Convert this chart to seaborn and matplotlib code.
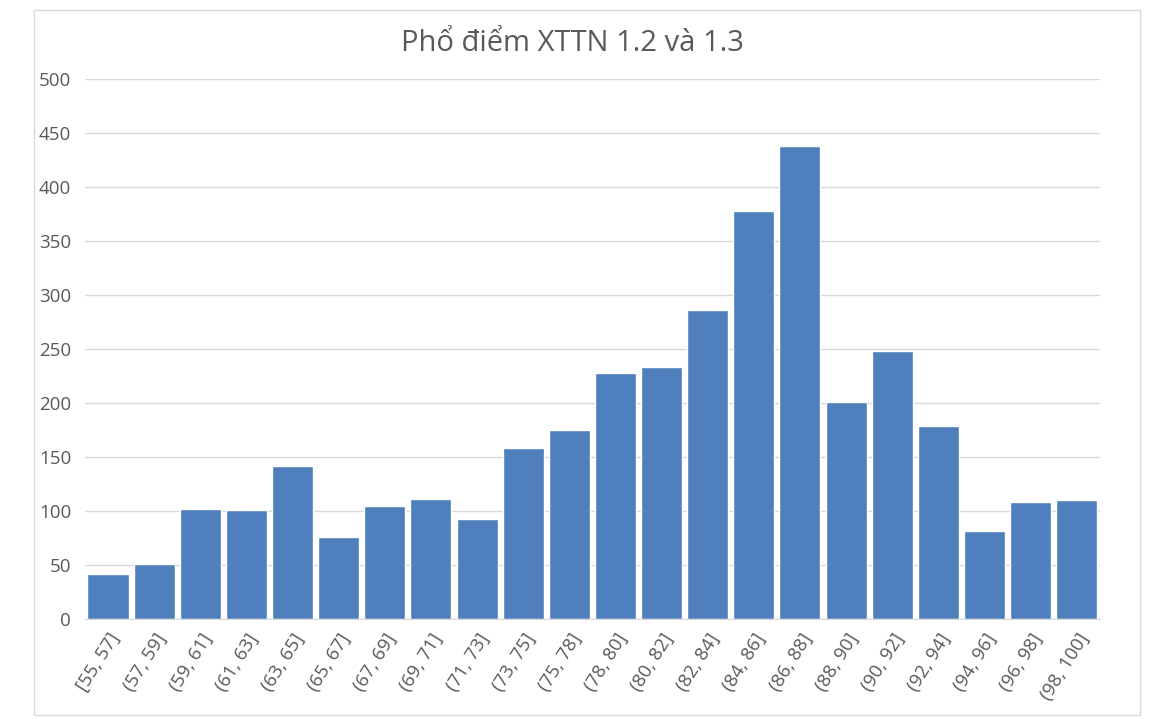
import matplotlib
matplotlib.use("Agg")
import matplotlib.pyplot as plt
import seaborn as sns
import pandas as pd
from matplotlib.patches import Rectangle

# score bins and counts
bins = ["[55, 57]", "(57, 59]", "(59, 61]", "(61, 63]", "(63, 65]", "(65, 67]",
        "(67, 69]", "(69, 71]", "(71, 73]", "(73, 75]", "(75, 78]", "(78, 80]",
        "(80, 82]", "(82, 84]", "(84, 86]", "(86, 88]", "(88, 90]", "(90, 92]",
        "(92, 94]", "(94, 96]", "(96, 98]", "(98, 100]"]
counts = [42, 51, 102, 101, 142, 76, 105, 111, 93, 158, 175, 228,
          233, 286, 378, 438, 201, 248, 179, 82, 108, 110]
yticks = [0, 50, 100, 150, 200, 250, 300, 350, 400, 450, 500]

df = pd.DataFrame({"bin": bins, "count": counts})

sns.set_style("white")
plt.rcParams['font.family'] = ['Open Sans', 'DejaVu Sans']

fig = plt.figure(figsize=(11.7, 7.19), dpi=100)
ax = fig.add_axes([0.0726, 0.139, 0.8674, 0.751])

sns.barplot(data=df, x="bin", y="count", color="#4f80bd", saturation=1,
            width=0.89, ax=ax)

ax.set_ylim(0, 500)
ax.set_xlim(-0.5, len(bins) - 0.5)
ax.set_yticks(yticks)
ax.yaxis.grid(True, color="#d9d9d9", linewidth=1)
ax.set_axisbelow(True)
for s in ["top", "right", "left"]:
    ax.spines[s].set_visible(False)
ax.spines["bottom"].set_color("#d9d9d9")
ax.tick_params(axis="both", length=0, colors="#595959", labelsize=13.5)
ax.tick_params(axis="y", pad=10)
plt.setp(ax.get_xticklabels(), rotation=58, ha="right", rotation_mode="anchor")
ax.tick_params(axis="x", pad=8)
ax.set_xlabel("")
ax.set_ylabel("")

fig.text(0.489, 0.94, "Phổ điểm XTTN 1.2 và 1.3", ha="center", va="center",
         fontsize=21, color="#595959")

# outer chart border
fig.patches.append(Rectangle((0.029, 0.006), 0.945, 0.98, transform=fig.transFigure,
                             fill=False, edgecolor="#d9d9d9", linewidth=1))

fig.savefig("out.png", dpi=100)
